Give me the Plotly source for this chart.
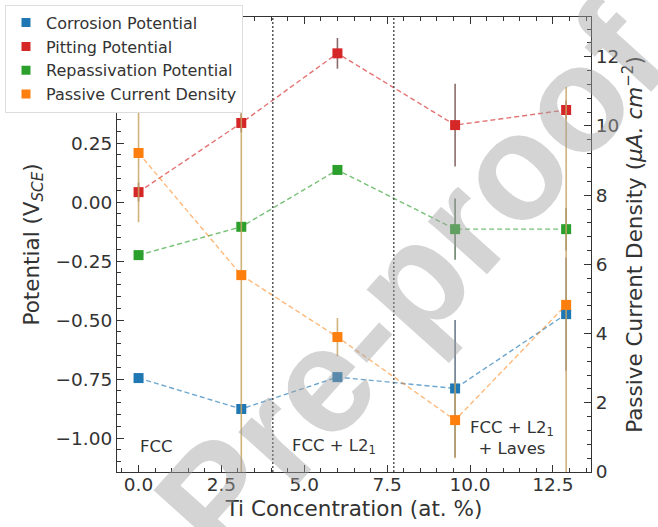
import plotly.graph_objects as go

# ---------------- data ----------------
ti_conc = [0.0, 3.1, 6.0, 9.55, 12.9]

corrosion = [-0.746, -0.877, -0.742, -0.79, -0.475]
corrosion_err = [0.02, 0.02, 0.02, 0.29, 0.24]

pitting = [0.042, 0.335, 0.63, 0.326, 0.39]
pitting_err = [0.04, 0.04, 0.065, 0.175, 0.04]

repassivation = [-0.225, -0.105, 0.136, -0.115, -0.115]
repassivation_err = [0.02, 0.02, 0.02, 0.13, 0.09]

passive_current = [9.22, 5.69, 3.9, 1.5, 4.83]
passive_current_err = [2.0, 6.2, 0.55, 1.1, 6.3]

phase_boundaries = [4.05, 7.7]
phase_labels = ["FCC", "FCC + L2<sub>1</sub>", "FCC + L2<sub>1</sub><br>+ Laves"]
phase_label_x = [0.55, 5.9, 11.27]
phase_label_y = [-1.035, -1.035, -1.0]

series_names = ["Corrosion Potential", "Pitting Potential",
                "Repassivation Potential", "Passive Current Density"]
colors = ["#1f77b4", "#d62728", "#2ca02c", "#ff7f0e"]
line_colors = ["rgba(31,119,180,0.65)", "rgba(214,39,40,0.65)",
               "rgba(44,160,44,0.65)", "rgba(255,127,14,0.55)"]
err_colors = ["rgba(70,90,110,0.8)", "rgba(110,70,70,0.8)",
              "rgba(70,100,70,0.8)", "rgba(200,165,100,0.85)"]

FONT = "DejaVu Sans"
TXT = "#333333"

fig = go.Figure()

ys = [corrosion, pitting, repassivation, passive_current]
errs = [corrosion_err, pitting_err, repassivation_err, passive_current_err]
axes = ["y", "y", "y", "y2"]

for name, yv, ev, c, lc, ec, ax in zip(series_names, ys, errs, colors,
                                       line_colors, err_colors, axes):
    fig.add_trace(go.Scatter(
        x=ti_conc, y=yv, mode="lines+markers", yaxis=ax, showlegend=False,
        line=dict(color=lc, width=1.4, dash="5px,3px"),
        marker=dict(symbol="square", size=10, color=c),
        error_y=dict(type="data", array=ev, visible=True, color=ec,
                     thickness=1.6, width=0),
    ))

# legend-only entries (marker only, like the reference)
for i, (name, c, ax) in enumerate(zip(series_names, colors, axes)):
    fig.add_trace(go.Scatter(
        x=[None], y=[None], mode="markers", name=name, yaxis=ax,
        legendgroup="g%d" % i,
        marker=dict(symbol="square", size=9, color=c),
    ))

shapes = []
for xb in phase_boundaries:
    shapes.append(dict(type="line", xref="x", yref="paper", x0=xb, x1=xb,
                       y0=0, y1=1, line=dict(color="#555555", width=1.5,
                                             dash="2px,2px")))

annotations = []
for lbl, lx, ly in zip(phase_labels, phase_label_x, phase_label_y):
    annotations.append(dict(x=lx, y=ly, xref="x", yref="y", text=lbl,
                            showarrow=False, align="center",
                            font=dict(family=FONT, size=16.5, color=TXT)))

# watermark
annotations.append(dict(x=0.62, y=0.42, xref="paper", yref="paper",
                        text="<b>Pre-proof</b>", showarrow=False, textangle=-48,
                        font=dict(family="Liberation Sans", size=150,
                                  color="rgba(160,160,160,0.45)")))

fig.update_layout(
    width=658, height=527,
    margin=dict(l=117, r=67, t=17, b=55, autoexpand=False),
    paper_bgcolor="white", plot_bgcolor="white",
    font=dict(family=FONT, size=18.5, color=TXT),
    shapes=shapes, annotations=annotations,
    legend=dict(x=-0.2363, y=1.027, xanchor="left", yanchor="top",
                bgcolor="#ffffff", bordercolor="#dddddd",
                borderwidth=1, font=dict(family=FONT, size=16, color=TXT),
                tracegroupgap=0, traceorder="grouped"),
    xaxis=dict(
        range=[-0.65, 13.65], tick0=0, dtick=2.5, tickformat=".1f",
        ticks="inside", ticklen=7, tickwidth=1, tickcolor="#333",
        minor=dict(ticks="inside", ticklen=4, dtick=0.5, tick0=0,
                   tickcolor="#333"),
        showline=True, linecolor="#333", linewidth=1, mirror="ticks",
        showgrid=False, zeroline=False, automargin=False,
        ticklabelstandoff=-4,
        title=dict(text="Ti Concentration (at. %)", standoff=6,
                   font=dict(size=21.5)),
        tickfont=dict(size=18.5),
    ),
    yaxis=dict(
        range=[-1.144, 0.784], tick0=0, dtick=0.25, tickformat=".2f",
        ticks="inside", ticklen=7, tickwidth=1, tickcolor="#333",
        minor=dict(ticks="inside", ticklen=4, dtick=0.05, tick0=0,
                   tickcolor="#333"),
        showline=True, linecolor="#333", linewidth=1,
        showgrid=False, zeroline=False, automargin=False,
        title=dict(text="Potential (V<sub><i>SCE</i></sub>)", standoff=10,
                   font=dict(size=21.5)),
        tickfont=dict(size=18.5),
    ),
    yaxis2=dict(
        overlaying="y", side="right", range=[0, 13.15], tick0=0, dtick=2,
        ticks="inside", ticklen=7, tickwidth=1, tickcolor="#333",
        minor=dict(ticks="inside", ticklen=4, dtick=0.4, tick0=0,
                   tickcolor="#333"),
        showline=True, linecolor="#333", linewidth=1,
        showgrid=False, zeroline=False, automargin=False,
        title=dict(text="Passive Current Density (<i>μA. cm</i><sup>−2</sup>)",
                   standoff=8, font=dict(size=21.5)),
        tickfont=dict(size=18.5),
    ),
)

fig.write_html("out.html",
               config={"displayModeBar": False},
               post_script="document.body.style.margin='0';")
